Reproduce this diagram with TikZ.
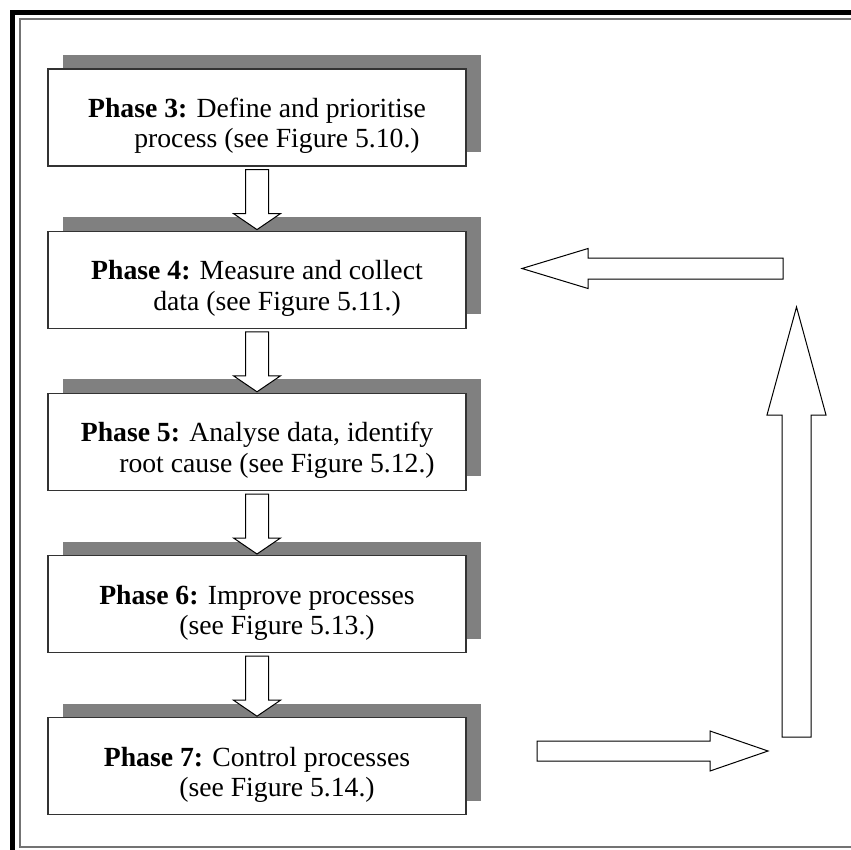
\documentclass[tikz,border=0pt]{standalone}
\usepackage{fontspec}
\setmainfont{Liberation Serif}
\usetikzlibrary{positioning,calc,shadows}

\tikzset{
  phase/.style={draw=black!80, line width=1.2pt, fill=white,
    minimum width=418pt, minimum height=97pt, align=center,
    text height=66pt, text depth=5.4pt,
    font=\fontsize{27.7}{30.3}\selectfont,
    general shadow={fill=black!50, draw=none, shadow xshift=15pt, shadow yshift=14pt}},
  % hollow block arrow: shaft half width, head half width, head length
  blockarrow/.style n args={3}{draw=black, line width=1pt, fill=white,
    to path={($(\tikztostart)!#1!90:(\tikztotarget)$)
      -- ($(\tikztotarget)!#3!(\tikztostart)!#1!-90:(\tikztostart)$)
      -- ($(\tikztotarget)!#3!(\tikztostart)!#2!-90:(\tikztostart)$)
      -- (\tikztotarget)
      -- ($(\tikztotarget)!#3!(\tikztostart)!#2!90:(\tikztostart)$)
      -- ($(\tikztotarget)!#3!(\tikztostart)!#1!90:(\tikztostart)$)
      -- ($(\tikztostart)!#1!-90:(\tikztotarget)$) -- cycle}},
  frame/.style={line width=5pt, line cap=rect}
}

\begin{document}
\begin{tikzpicture}[x=1pt, y=-1pt, node distance=64pt]
  \useasboundingbox (0,0) rectangle (851,849);

  % page frame
  \draw[frame] (12.5,12.5) -- (851,12.5);
  \draw[frame] (12.5,12.5) -- (12.5,849);
  \draw[black!55, line width=2pt] (851,18.5) -- (19.5,18.5) -- (19.5,846.5) -- (851,846.5);

  % phases
  \node[phase] (p3) at (257,117.5) {\textbf{Phase 3:} Define and prioritise\\\hspace*{40pt}process (see Figure 5.10.)};
  \node[phase, below=of p3] (p4) {\textbf{Phase 4:} Measure and collect\\\hspace*{40pt}data (see Figure 5.11.)};
  \node[phase, below=of p4] (p5) {\textbf{Phase 5:} Analyse data, identify\\\hspace*{40pt}root cause (see Figure 5.12.)};
  \node[phase, below=of p5] (p6) {\textbf{Phase 6:} Improve processes\\\hspace*{40pt}(see Figure 5.13.)};
  \node[phase, below=of p6] (p7) {\textbf{Phase 7:} Control processes\\\hspace*{40pt}(see Figure 5.14.)};

  \foreach \a/\b in {p3/p4, p4/p5, p5/p6, p6/p7}
    \draw[blockarrow={11.5pt}{23.5pt}{16pt}] ([yshift=-3pt]\a.south) to ([yshift=1pt]\b.north);

  % loop back to phase 4
  \coordinate (ctrl) at (537,751);
  \coordinate (ctrlend) at (768,751);
  \coordinate (upstart) at (796.5,737);
  \coordinate (upend) at (796.5,307);
  \coordinate (backstart) at (783,268.5);
  \coordinate (backend) at (522,268.5);
  \draw[blockarrow={10pt}{20pt}{58pt}] (ctrl) to (ctrlend);
  \draw[blockarrow={14.5pt}{29.5pt}{108pt}] (upstart) to (upend);
  \draw[blockarrow={10.5pt}{20pt}{66pt}] (backstart) to (backend);
\end{tikzpicture}
\end{document}
